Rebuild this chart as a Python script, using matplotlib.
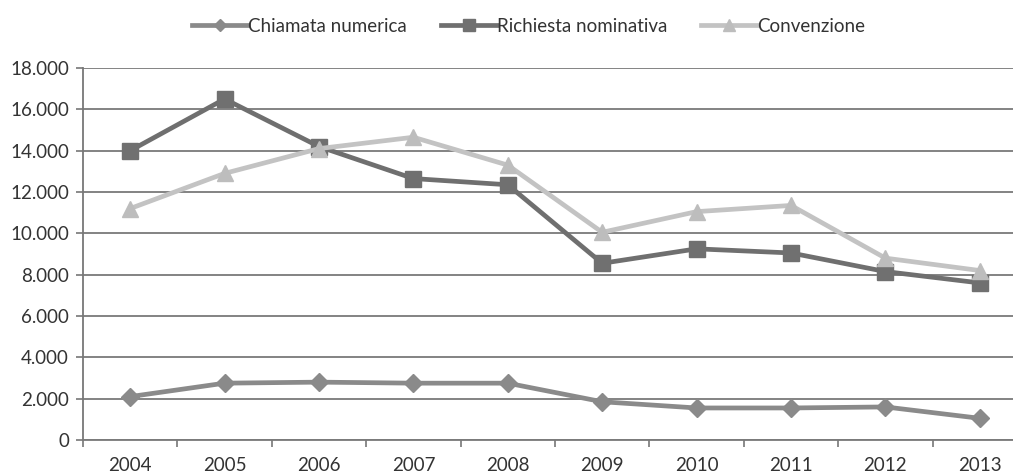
import numpy as np
import matplotlib
matplotlib.use("Agg")
import matplotlib.pyplot as plt
from matplotlib.ticker import FuncFormatter, FixedLocator

plt.rcParams['font.family'] = ['Lato', 'DejaVu Sans']

# data
years = ['2004', '2005', '2006', '2007', '2008', '2009', '2010', '2011', '2012', '2013']
chiamata = [2100, 2750, 2800, 2750, 2750, 1850, 1550, 1550, 1600, 1050]
richiesta = [14000, 16500, 14200, 12650, 12350, 8550, 9250, 9050, 8150, 7600]
convenzione = [11200, 12900, 14100, 14650, 13300, 10050, 11050, 11350, 8800, 8200]
labels = ['Chiamata numerica', 'Richiesta nominativa', 'Convenzione']

fig = plt.figure(figsize=(10.13, 4.74), dpi=100)
ax = fig.add_axes([83 / 1013, 34 / 474, (1027 - 83) / 1013, (440 - 68) / 474])

x = np.arange(len(years))
ax.plot(x, chiamata, color='#8a8a8a', lw=3.4, marker='D', ms=9,
        mfc='#8a8a8a', mec='#8a8a8a', label=labels[0], zorder=3)
ax.plot(x, richiesta, color='#6f6f6f', lw=3.4, marker='s', ms=12,
        mfc='#707070', mec='#707070', label=labels[1], zorder=3)
ax.plot(x, convenzione, color='#c3c3c3', lw=3.4, marker='^', ms=12,
        mfc='#bdbdbd', mec='#bdbdbd', label=labels[2], zorder=3)

ax.set_xlim(-0.5, len(years) - 0.5)
ax.set_ylim(0, 18000)
ax.set_yticks(np.arange(0, 18001, 2000))
ax.yaxis.set_major_formatter(FuncFormatter(lambda v, p: f"{int(v):,}".replace(',', '.')))
ax.set_xticks(x)
ax.set_xticklabels(years)
ax.xaxis.set_minor_locator(FixedLocator(np.arange(-0.5, len(years), 1.0)))
ax.tick_params(axis='x', which='major', length=0, pad=12, labelsize=13.5, colors='#333333')
ax.tick_params(axis='x', which='minor', length=5, width=1.2, color='#777777')
ax.tick_params(axis='y', length=5, width=1.2, color='#777777', labelsize=13.5,
               labelcolor='#333333', pad=5)

ax.grid(axis='y', color='#7a7a7a', lw=1.3, zorder=0)
for s in ['top', 'right']:
    ax.spines[s].set_visible(False)
ax.spines['left'].set_color('#777777')
ax.spines['left'].set_linewidth(1.3)
ax.spines['bottom'].set_color('#7a7a7a')
ax.spines['bottom'].set_linewidth(1.3)

leg = fig.legend(loc='center', bbox_to_anchor=(0.522, 1 - 26 / 474), ncol=3,
                 frameon=False, fontsize=13.5, handlelength=3.0, columnspacing=1.8,
                 handletextpad=0.0, markerscale=0.7)
for t in leg.get_texts():
    t.set_color('#333333')

fig.savefig('out.png', dpi=100)
